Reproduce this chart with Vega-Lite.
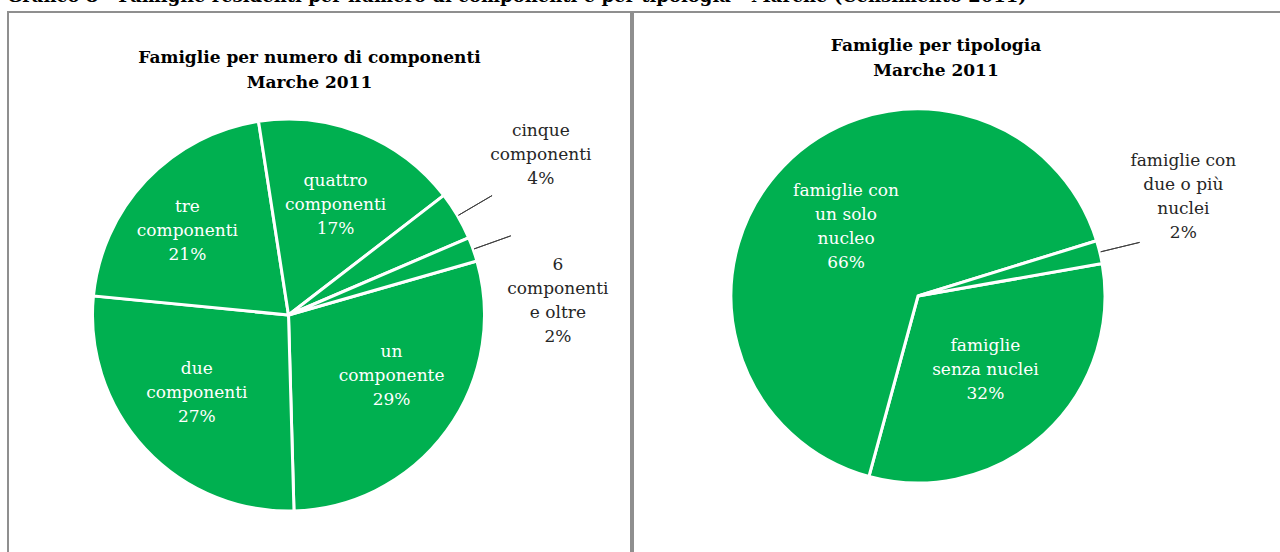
{
  "$schema": "https://vega.github.io/schema/vega-lite/v6.json",
  "padding": {"left": 7, "top": -12, "right": -10, "bottom": -15},
  "title": {"text": "Grafico 8 - Famiglie residenti per numero di componenti e per tipologia - Marche (Censimento 2011)", "anchor": "start", "font": "DejaVu Serif", "fontSize": 18, "fontWeight": "bold", "color": "#000000", "offset": -10},
  "spacing": 0,
  "config": {"view": {"stroke": "#8f8f8f", "strokeWidth": 2}, "font": "DejaVu Serif"},
  "hconcat": [
    {
      "width": 623,
      "height": 560,
      "view": {"stroke": "#8f8f8f", "strokeWidth": 2},
      "title": {"text": ["Famiglie per numero di componenti", "Marche 2011"], "anchor": "middle", "frame": "group", "baseline": "top", "offset": -95, "dx": -10, "fontSize": 17, "font": "DejaVu Serif", "fontWeight": "bold", "color": "#000000", "lineHeight": 25},
      "data": {"values": [
        {"ord": 1, "name": "un componente", "value": 29, "lin": "un\ncomponente\n29%", "lout": ""},
        {"ord": 2, "name": "due componenti", "value": 27, "lin": "due\ncomponenti\n27%", "lout": ""},
        {"ord": 3, "name": "tre componenti", "value": 21, "lin": "tre\ncomponenti\n21%", "lout": ""},
        {"ord": 4, "name": "quattro componenti", "value": 17, "lin": "quattro\ncomponenti\n17%", "lout": ""},
        {"ord": 5, "name": "cinque componenti", "value": 4, "lin": "", "lout": "cinque\ncomponenti\n4%"},
        {"ord": 6, "name": "6 componenti e oltre", "value": 2, "lin": "", "lout": "6\ncomponenti\ne oltre\n2%"}
      ]},
      "encoding": {
        "theta": {"field": "value", "type": "quantitative", "stack": true, "scale": {"domain": [0, 100], "range": [1.2915, 7.5747]}},
        "order": {"field": "ord", "type": "quantitative"},
        "detail": {"field": "name", "type": "nominal"}
      },
      "layer": [
        {"mark": {"type": "arc", "radius": 196, "fill": "#00B050", "stroke": "white", "strokeWidth": 3, "xOffset": -31, "yOffset": 23}},
        {"mark": {"type": "arc", "radius": 236, "radius2": 197, "padAngle": 1, "fillOpacity": 0, "stroke": "#404040", "strokeWidth": 1, "xOffset": -31, "yOffset": 23},
         "encoding": {"strokeOpacity": {"condition": {"test": "datum.lout != ''", "value": 1}, "value": 0}}},
        {"mark": {"type": "text", "radius": 124, "xOffset": -28, "yOffset": -13, "fill": "white", "fontSize": 17, "font": "DejaVu Serif", "lineBreak": "\n", "lineHeight": 24, "align": "center", "baseline": "middle"},
         "encoding": {"text": {"field": "lin", "type": "nominal"}, "opacity": {"condition": {"test": "datum.ord == 1", "value": 1}, "value": 0}}},
        {"mark": {"type": "text", "radius": 124, "xOffset": -32, "yOffset": -8, "fill": "white", "fontSize": 17, "font": "DejaVu Serif", "lineBreak": "\n", "lineHeight": 24, "align": "center", "baseline": "middle"},
         "encoding": {"text": {"field": "lin", "type": "nominal"}, "opacity": {"condition": {"test": "datum.ord == 2", "value": 1}, "value": 0}}},
        {"mark": {"type": "text", "radius": 124, "xOffset": -42, "yOffset": 0, "fill": "white", "fontSize": 17, "font": "DejaVu Serif", "lineBreak": "\n", "lineHeight": 24, "align": "center", "baseline": "middle"},
         "encoding": {"text": {"field": "lin", "type": "nominal"}, "opacity": {"condition": {"test": "datum.ord == 3", "value": 1}, "value": 0}}},
        {"mark": {"type": "text", "radius": 124, "xOffset": -30, "yOffset": 4, "fill": "white", "fontSize": 17, "font": "DejaVu Serif", "lineBreak": "\n", "lineHeight": 24, "align": "center", "baseline": "middle"},
         "encoding": {"text": {"field": "lin", "type": "nominal"}, "opacity": {"condition": {"test": "datum.ord == 4", "value": 1}, "value": 0}}},
        {"mark": {"type": "text", "radius": 296, "xOffset": -34, "yOffset": -11, "fill": "#262626", "fontSize": 17, "font": "DejaVu Serif", "lineBreak": "\n", "lineHeight": 24, "align": "center", "baseline": "middle"},
         "encoding": {"text": {"field": "lout", "type": "nominal"}, "opacity": {"condition": {"test": "datum.ord == 5", "value": 1}, "value": 0}}},
        {"mark": {"type": "text", "radius": 286, "xOffset": -31, "yOffset": 69, "fill": "#262626", "fontSize": 17, "font": "DejaVu Serif", "lineBreak": "\n", "lineHeight": 24, "align": "center", "baseline": "middle"},
         "encoding": {"text": {"field": "lout", "type": "nominal"}, "opacity": {"condition": {"test": "datum.ord == 6", "value": 1}, "value": 0}}}
      ]
    },
    {
      "width": 660,
      "height": 560,
      "view": {"stroke": "#8f8f8f", "strokeWidth": 2},
      "title": {"text": ["Famiglie per tipologia", "Marche 2011"], "anchor": "middle", "frame": "group", "baseline": "top", "offset": -68, "dx": -27, "fontSize": 17, "font": "DejaVu Serif", "fontWeight": "bold", "color": "#000000", "lineHeight": 25},
      "data": {"values": [
        {"ord": 1, "name": "famiglie senza nuclei", "value": 32, "lin": "famiglie\nsenza nuclei\n32%", "lout": ""},
        {"ord": 2, "name": "famiglie con un solo nucleo", "value": 66, "lin": "famiglie con\nun solo\nnucleo\n66%", "lout": ""},
        {"ord": 3, "name": "famiglie con due o più nuclei", "value": 2, "lin": "", "lout": "famiglie con\ndue o più\nnuclei\n2%"}
      ]},
      "encoding": {
        "theta": {"field": "value", "type": "quantitative", "stack": true, "scale": {"domain": [0, 100], "range": [1.3963, 7.6795]}},
        "order": {"field": "ord", "type": "quantitative"},
        "detail": {"field": "name", "type": "nominal"}
      },
      "layer": [
        {"mark": {"type": "arc", "radius": 187, "fill": "#00B050", "stroke": "white", "strokeWidth": 3, "xOffset": -45, "yOffset": 4}},
        {"mark": {"type": "arc", "radius": 228, "radius2": 188, "padAngle": 1, "fillOpacity": 0, "stroke": "#404040", "strokeWidth": 1, "xOffset": -45, "yOffset": 4},
         "encoding": {"strokeOpacity": {"condition": {"test": "datum.lout != ''", "value": 1}, "value": 0}}},
        {"mark": {"type": "text", "radius": 100, "xOffset": -45, "yOffset": -20, "fill": "white", "fontSize": 17, "font": "DejaVu Serif", "lineBreak": "\n", "lineHeight": 24, "align": "center", "baseline": "middle"},
         "encoding": {"text": {"field": "lin", "type": "nominal"}, "opacity": {"condition": {"test": "datum.ord == 1", "value": 1}, "value": 0}}},
        {"mark": {"type": "text", "radius": 100, "xOffset": -45, "yOffset": -32, "fill": "white", "fontSize": 17, "font": "DejaVu Serif", "lineBreak": "\n", "lineHeight": 24, "align": "center", "baseline": "middle"},
         "encoding": {"text": {"field": "lin", "type": "nominal"}, "opacity": {"condition": {"test": "datum.ord == 2", "value": 1}, "value": 0}}},
        {"mark": {"type": "text", "radius": 273, "xOffset": -45, "yOffset": -67, "fill": "#262626", "fontSize": 17, "font": "DejaVu Serif", "lineBreak": "\n", "lineHeight": 24, "align": "center", "baseline": "middle"},
         "encoding": {"text": {"field": "lout", "type": "nominal"}, "opacity": {"condition": {"test": "datum.ord == 3", "value": 1}, "value": 0}}}
      ]
    }
  ]
}
